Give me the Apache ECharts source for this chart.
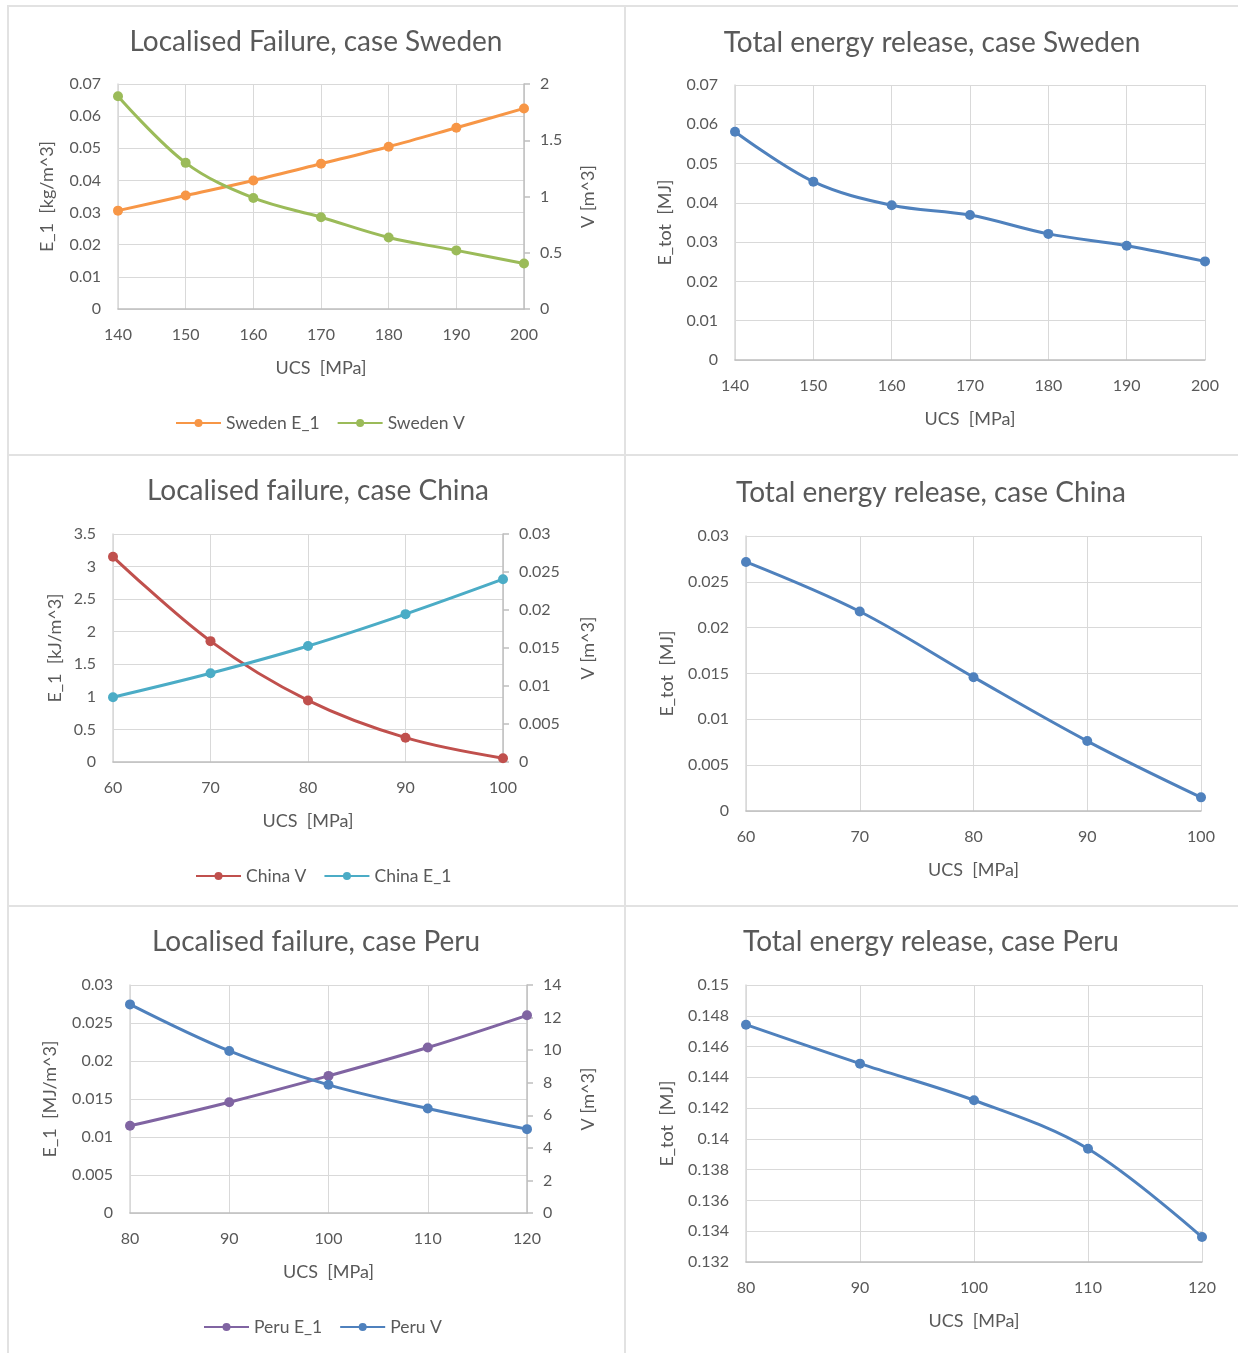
<!DOCTYPE html>
<html>
<head>
<meta charset="utf-8">
<script src="https://cdn.jsdelivr.net/npm/echarts@6/dist/echarts.min.js"></script>
<style>
  html, body { margin: 0; padding: 0; background: #ffffff; }
  #wrap { position: relative; width: 1238px; height: 1353px; }
  .rule { position: absolute; background: #e2e2e2; }
  #chart { position: absolute; left: 0; top: 0; width: 1238px; height: 1353px; }
</style>
</head>
<body>
<div id="wrap">
  <!-- panel frame lines -->
  <div class="rule" style="left:7px;top:5px;width:1231px;height:2px;"></div>
  <div class="rule" style="left:7px;top:5px;width:2px;height:1348px;"></div>
  <div class="rule" style="left:624px;top:5px;width:2px;height:1348px;"></div>
  <div class="rule" style="left:7px;top:454px;width:1231px;height:2px;"></div>
  <div class="rule" style="left:7px;top:905px;width:1231px;height:2px;"></div>
  <div id="chart"></div>
</div>
<script>
// UCS values [MPa] for each case
const sweUCS = [140, 150, 160, 170, 180, 190, 200];
const chinaUCS = [60, 70, 80, 90, 100];
const peruUCS = [80, 90, 100, 110, 120];

// Sweden
const sweE1 = [0.0306, 0.0353, 0.0400, 0.0452, 0.0505, 0.0564, 0.0624];   // kg/m^3
const sweV = [1.891, 1.299, 0.987, 0.816, 0.636, 0.521, 0.404];           // m^3
const sweEtot = [0.0581, 0.0454, 0.0394, 0.0369, 0.0321, 0.0291, 0.0251]; // MJ

// China
const chinaV = [0.0270, 0.0159, 0.0081, 0.0032, 0.0005];                  // m^3
const chinaE1 = [0.995, 1.362, 1.780, 2.270, 2.806];                      // kJ/m^3
const chinaEtot = [0.02717, 0.02176, 0.01460, 0.00763, 0.00149];          // MJ

// Peru
const peruE1 = [0.01147, 0.01458, 0.01804, 0.02177, 0.02601];             // MJ/m^3
const peruV = [12.81, 9.95, 7.87, 6.42, 5.15];                            // m^3
const peruEtot = [0.14742, 0.14489, 0.14251, 0.13936, 0.13362];           // MJ

// Title and axis texts
const titles = [
  'Localised Failure, case Sweden',
  'Total energy release, case Sweden',
  'Localised failure, case China',
  'Total energy release, case China',
  'Localised failure, case Peru',
  'Total energy release, case Peru'
];
const xName = 'UCS  [MPa]';

const FONT = 'Lato, "Open Sans", sans-serif';
const TXT = '#595959';
const GRID = '#d9d9d9';
const AXIS = '#bfbfbf';

function pairs(xs, ys) { return xs.map((x, i) => [x, ys[i]]); }

// Panel geometry (plot areas)
const grids = [
  { left: 118, top: 84, width: 406, height: 225 },
  { left: 735, top: 85, width: 470, height: 275 },
  { left: 113, top: 534, width: 390, height: 228 },
  { left: 746, top: 536, width: 455, height: 275 },
  { left: 130, top: 985, width: 397, height: 228 },
  { left: 746, top: 985, width: 456, height: 277 }
];
const titlePos = [[316, 41], [932, 42], [318, 490], [931, 492], [316, 941], [931, 941]];

function xAxis(gi, min, max) {
  return {
    type: 'value', gridIndex: gi, min: min, max: max, interval: 10,
    name: xName, nameLocation: 'middle', nameGap: 50,
    nameTextStyle: { color: TXT, fontSize: 18, fontFamily: FONT },
    axisLine: { show: true, onZero: false, lineStyle: { color: AXIS, width: 1.5 } },
    axisTick: { show: false },
    axisLabel: { color: TXT, fontSize: 16, fontFamily: FONT, margin: 18 },
    splitLine: { show: true, lineStyle: { color: GRID, width: 1 } }
  };
}
function yLeft(gi, min, max, interval, name, gap) {
  return {
    type: 'value', gridIndex: gi, position: 'left', min: min, max: max, interval: interval,
    name: name, nameLocation: 'middle', nameGap: gap, nameRotate: 90,
    nameTextStyle: { color: TXT, fontSize: 18, fontFamily: FONT },
    axisLine: { show: true, lineStyle: { color: GRID, width: 1.5 } },
    axisTick: { show: false },
    axisLabel: { color: TXT, fontSize: 16, fontFamily: FONT, margin: 17 },
    splitLine: { show: true, lineStyle: { color: GRID, width: 1 } }
  };
}
function yRight(gi, min, max, interval, gap) {
  return {
    type: 'value', gridIndex: gi, position: 'right', min: min, max: max, interval: interval,
    name: 'V [m^3]', nameLocation: 'middle', nameGap: gap, nameRotate: 90,
    nameTextStyle: { color: TXT, fontSize: 18, fontFamily: FONT },
    axisLine: { show: true, lineStyle: { color: AXIS, width: 1.5 } },
    axisTick: { show: true, inside: false, length: 6, lineStyle: { color: AXIS, width: 1.5 } },
    axisLabel: { color: TXT, fontSize: 16, fontFamily: FONT, margin: 16 },
    splitLine: { show: false }
  };
}
function line(name, color, xi, yi, data) {
  return {
    type: 'line', name: name, xAxisIndex: xi, yAxisIndex: yi, data: data,
    smooth: 0.35, symbol: 'circle', symbolSize: 10,
    lineStyle: { color: color, width: 3 },
    itemStyle: { color: color },
    emphasis: { disabled: true }, animation: false
  };
}
function legend(names, left, top) {
  return {
    data: names, left: left, top: top, orient: 'horizontal', padding: 0,
    itemWidth: 45, itemHeight: 10, itemGap: 17,
    textStyle: { color: TXT, fontSize: 17.5, fontFamily: FONT },
    selectedMode: false
  };
}

const option = {
  animation: false,
  title: titles.map((t, i) => ({
    text: t, left: titlePos[i][0], top: titlePos[i][1] - 13, textAlign: 'center', padding: 0,
    textStyle: { color: TXT, fontSize: 28, fontWeight: 'normal', fontFamily: FONT }
  })),
  grid: grids.map(g => Object.assign({ containLabel: false }, g)),
  xAxis: [
    xAxis(0, 140, 200),
    xAxis(1, 140, 200),
    xAxis(2, 60, 100),
    xAxis(3, 60, 100),
    xAxis(4, 80, 120),
    xAxis(5, 80, 120)
  ],
  yAxis: [
    yLeft(0, 0, 0.07, 0.01, 'E_1  [kg/m^3]', 62),
    yRight(0, 0, 2, 0.5, 55),
    yLeft(1, 0, 0.07, 0.01, 'E_tot  [MJ]', 61),
    yLeft(2, 0, 3.5, 0.5, 'E_1  [kJ/m^3]', 49),
    yRight(2, 0, 0.03, 0.005, 76),
    yLeft(3, 0, 0.03, 0.005, 'E_tot  [MJ]', 70),
    yLeft(4, 0, 0.03, 0.005, 'E_1  [MJ/m^3]', 71),
    yRight(4, 0, 14, 2, 52),
    yLeft(5, 0.132, 0.15, 0.002, 'E_tot  [MJ]', 70)
  ],
  legend: [
    legend(['Sweden E_1', 'Sweden V'], 175, 414),
    legend(['China V', 'China E_1'], 195, 867),
    legend(['Peru E_1', 'Peru V'], 203, 1318)
  ],
  series: [
    line('Sweden E_1', '#f79646', 0, 0, pairs(sweUCS, sweE1)),
    line('Sweden V', '#9bbb59', 0, 1, pairs(sweUCS, sweV)),
    line('Sweden E_tot', '#4f81bd', 1, 2, pairs(sweUCS, sweEtot)),
    line('China V', '#c0504d', 2, 4, pairs(chinaUCS, chinaV)),
    line('China E_1', '#4bacc6', 2, 3, pairs(chinaUCS, chinaE1)),
    line('China E_tot', '#4f81bd', 3, 5, pairs(chinaUCS, chinaEtot)),
    line('Peru E_1', '#8064a2', 4, 6, pairs(peruUCS, peruE1)),
    line('Peru V', '#4f81bd', 4, 7, pairs(peruUCS, peruV)),
    line('Peru E_tot', '#4f81bd', 5, 8, pairs(peruUCS, peruEtot))
  ]
};

const chart = echarts.init(document.getElementById('chart'), null, { renderer: 'canvas' });
chart.setOption(option);
</script>
</body>
</html>
